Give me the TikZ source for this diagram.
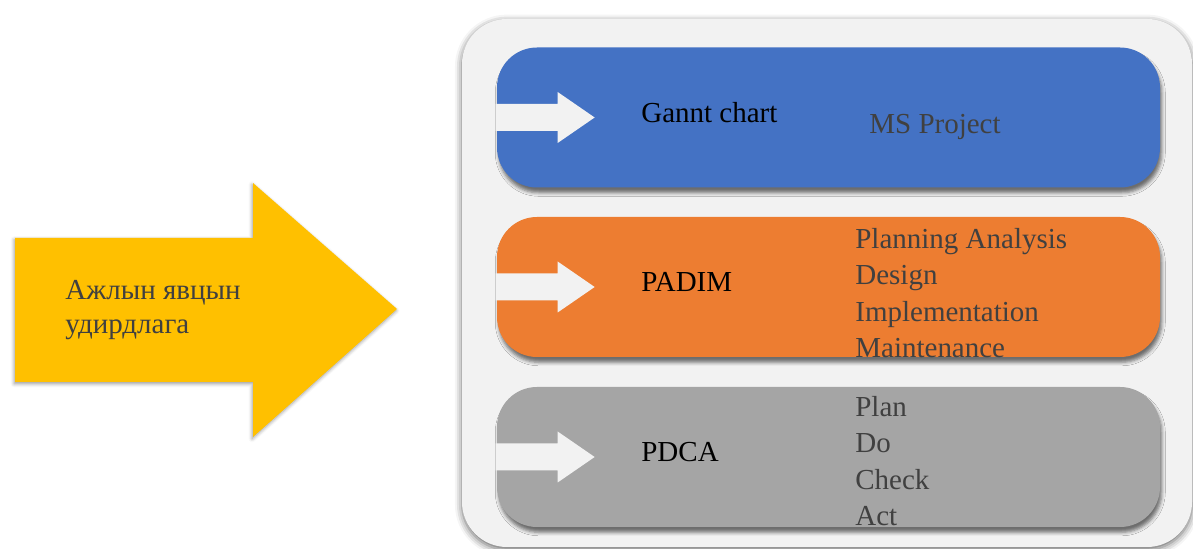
\documentclass[tikz,border=0pt]{standalone}
\usepackage{fontspec}
\setmainfont{Liberation Serif}
\usepackage{tikz}
\usetikzlibrary{shadows.blur}
\definecolor{barblue}{HTML}{4472C4}
\definecolor{barorange}{HTML}{ED7D31}
\definecolor{bargray}{HTML}{A5A5A5}
\definecolor{goldarrow}{HTML}{FFC000}
\definecolor{panel}{HTML}{F2F2F2}
\definecolor{darktext}{HTML}{404040}
\tikzstyle{panelbox}=[rounded corners=0.9cm,fill=panel,blur shadow={shadow xshift=0pt,shadow yshift=-1.5pt,shadow blur radius=4pt,shadow opacity=60}]
\tikzstyle{bar}=[rectangle,rounded corners=0.8cm,minimum width=13.26cm,minimum height=2.8cm,inner sep=0pt,blur shadow={shadow xshift=1pt,shadow yshift=-3pt,shadow blur radius=2pt,shadow opacity=55}]
\tikzstyle{notch}=[fill=panel]
\tikzstyle{title}=[anchor=west,inner sep=0pt,font=\fontsize{16.5}{20}\selectfont,text=black]
\tikzstyle{items}=[anchor=west,inner sep=0pt,align=left,font=\fontsize{16.5}{20.8}\selectfont,text=darktext]
\tikzstyle{bigarrow}=[fill=goldarrow,blur shadow={shadow xshift=-0.5pt,shadow yshift=-1pt,shadow blur radius=2pt,shadow opacity=40}]

\begin{document}
\begin{tikzpicture}
	\useasboundingbox (0,0) rectangle (23.86,-10.98);
	% left arrow
	\path [style=bigarrow] (0.3,-4.76) -- (5.06,-4.76) -- (5.06,-3.66) -- (7.94,-6.18)
		-- (5.06,-8.74) -- (5.06,-7.64) -- (0.3,-7.64) -- cycle;
	\node [style=items, align=left, font=\fontsize{16.5}{19.4}\selectfont] (task) at (1.3,-6.2) {Ажлын явцын\\удирдлага};

	% panel
	\path [style=panelbox] (9.24,-0.38) rectangle (23.84,-10.94);

	\node [style=bar, fill=barblue] (gantt) at (16.57,-2.35) {};
	\node [style=bar, fill=barorange] (padim) at (16.57,-5.74) {};
	\node [style=bar, fill=bargray] (pdca) at (16.57,-9.14) {};

	\draw [style=notch, draw=none, shift={(gantt.west)}] (-0.02,0.27) -- (1.22,0.27) -- (1.22,0.51) -- (1.96,0)
		-- (1.22,-0.51) -- (1.22,-0.27) -- (-0.02,-0.27) -- cycle;
	\draw [style=notch, draw=none, shift={(padim.west)}] (-0.02,0.27) -- (1.22,0.27) -- (1.22,0.51) -- (1.96,0)
		-- (1.22,-0.51) -- (1.22,-0.27) -- (-0.02,-0.27) -- cycle;
	\draw [style=notch, draw=none, shift={(pdca.west)}] (-0.02,0.27) -- (1.22,0.27) -- (1.22,0.51) -- (1.96,0)
		-- (1.22,-0.51) -- (1.22,-0.27) -- (-0.02,-0.27) -- cycle;

	\node [style=title] (ganttlabel) at (12.82,-2.26) {Gannt chart};
	\node [style=title] (padimlabel) at (12.82,-5.64) {PADIM};
	\node [style=title] (pdcalabel) at (12.82,-9.04) {PDCA};

	\node [style=items] (ganttitems) at (17.38,-2.54) {MS Project};
	\node [style=items] (padimitems) at (17.1,-5.86) {Planning Analysis\\Design\\Implementation\\Maintenance};
	\node [style=items] (pdcaitems) at (17.1,-9.22) {Plan\\Do\\Check\\Act};
\end{tikzpicture}
\end{document}
